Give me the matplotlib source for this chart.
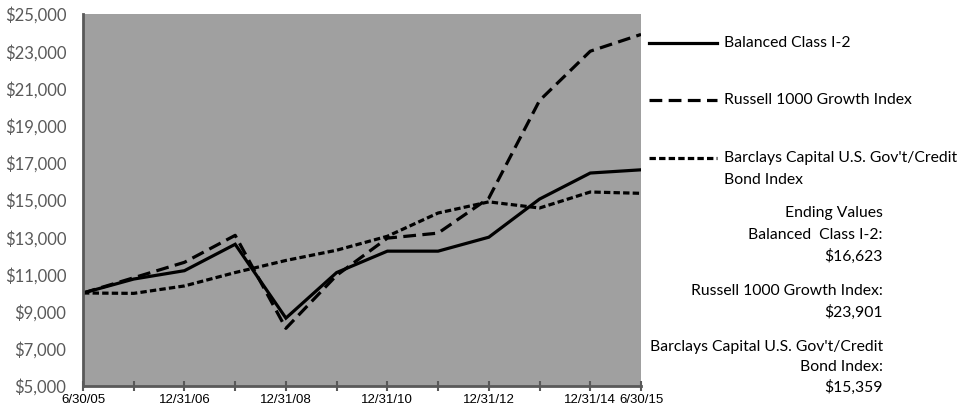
import matplotlib
matplotlib.use('Agg')
from matplotlib import pyplot as plt
from matplotlib.lines import Line2D
from matplotlib.ticker import FuncFormatter

dates = ['6/30/05', '12/31/05', '12/31/06', '12/31/07', '12/31/08', '12/31/09',
         '12/31/10', '12/31/11', '12/31/12', '12/31/13', '12/31/14', '6/30/15']
shown = ['6/30/05', '12/31/06', '12/31/08', '12/31/10', '12/31/12', '12/31/14', '6/30/15']

balanced = [10000, 10750, 11200, 12620, 8650, 11100, 12250, 12250, 13000, 15050, 16450, 16623]
russell = [10000, 10820, 11650, 13100, 8100, 10950, 12950, 13220, 15100, 20350, 23000, 23901]
bond = [10000, 9980, 10380, 11100, 11750, 12300, 13050, 14300, 14900, 14570, 15430, 15359]

names = [['Balanced Class I-2'], ['Russell 1000 Growth Index'],
         ['Barclays Capital U.S. Gov\'t/Credit', 'Bond Index']]
ending = ['Ending Values', 'Balanced  Class I-2:', '$16,623',
          'Russell 1000 Growth Index:', '$23,901',
          'Barclays Capital U.S. Gov\'t/Credit', 'Bond Index:', '$15,359']

styles = [dict(ls='-'), dict(ls=(0, (4, 2))), dict(ls=(0, (2, 1)))]
font = ['Lato', 'DejaVu Sans']

fig = plt.figure(figsize=(9.61, 4.11), dpi=100)
ax = fig.add_axes([83 / 961, 25 / 411, 558 / 961, 372 / 411])
ax.set_facecolor('#a0a0a0')

x = list(range(len(dates)))
for vals, st in zip([balanced, russell, bond], styles):
    ax.plot(x, vals, color='black', lw=2.3, solid_joinstyle='miter', **st)

ax.set_xlim(0, len(dates) - 1)
ax.set_ylim(5000, 25000)
ax.set_yticks(range(5000, 25001, 2000))
ax.yaxis.set_major_formatter(FuncFormatter(lambda v, p: '${:,.0f}'.format(v)))
ax.set_xticks(x)
ax.set_xticklabels([d if d in shown else '' for d in dates])

for s in ['top', 'right']:
    ax.spines[s].set_visible(False)
for s in ['left', 'bottom']:
    ax.spines[s].set_color('#595959')
    ax.spines[s].set_linewidth(2)
ax.tick_params(axis='y', length=0, pad=12, labelsize=12, labelcolor='#595959')
ax.tick_params(axis='x', direction='inout', length=7, width=1.5, color='#595959',
               pad=2, labelsize=9.5)
for t in ax.get_yticklabels():
    t.set_fontfamily(font)
for t in ax.get_xticklabels():
    t.set_fontfamily(['Liberation Sans Narrow', 'Liberation Sans'])

# legend keys and labels
key_y = [43, 100, 158]
for lines, st, yy in zip(names, styles, key_y):
    fy = 1 - yy / 411
    fig.add_artist(Line2D([649 / 961, 717 / 961], [fy, fy], color='black', lw=2.3,
                          transform=fig.transFigure, **st))
    for i, line in enumerate(lines):
        fig.text(724 / 961, 1 - (yy + 22 * i) / 411, line, fontsize=11.3,
                 family=font, va='center')

end_y = [213, 235, 256, 291, 312, 347, 367, 387]
for txt, yy in zip(ending, end_y):
    fig.text(883 / 961, 1 - yy / 411, txt, fontsize=11.3, ha='right', va='center',
             family=font)

fig.savefig('out.png', dpi=100)
